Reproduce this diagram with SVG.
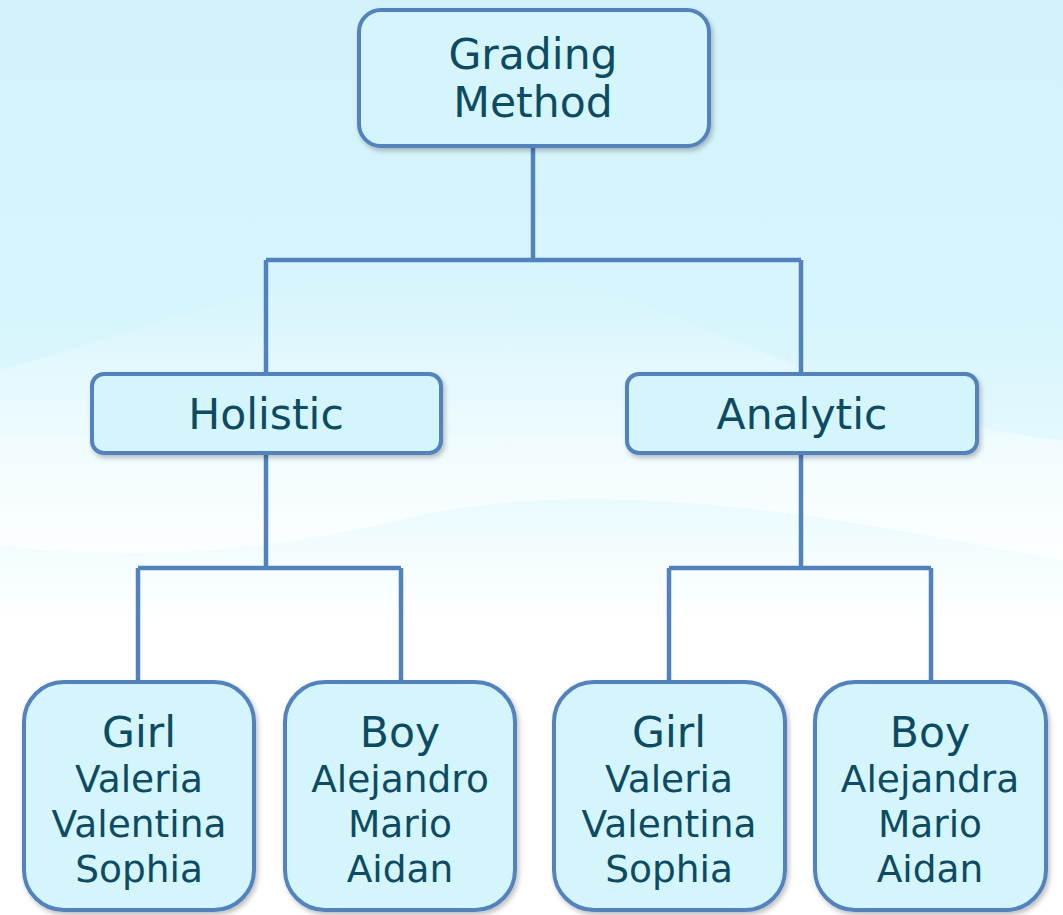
<svg xmlns="http://www.w3.org/2000/svg" width="1063" height="915" viewBox="0 0 1063 915">
<defs>
<linearGradient id="bg" x1="0" y1="0" x2="0" y2="1">
<stop offset="0" stop-color="#d3f3fb"/>
<stop offset="0.35" stop-color="#d6f5fc"/>
<stop offset="0.55" stop-color="#eafbfe"/>
<stop offset="0.68" stop-color="#ffffff"/>
<stop offset="1" stop-color="#ffffff"/>
</linearGradient>
<linearGradient id="wave" x1="0" y1="0" x2="0" y2="1">
<stop offset="0" stop-color="#ffffff" stop-opacity="0"/>
<stop offset="0.5" stop-color="#ffffff" stop-opacity="0.35"/>
<stop offset="1" stop-color="#ffffff" stop-opacity="0.8"/>
</linearGradient>
<filter id="sh" x="-10%" y="-10%" width="125%" height="130%">
<feDropShadow dx="2" dy="3" stdDeviation="2.5" flood-color="#000000" flood-opacity="0.25"/>
</filter>
<style>
.node rect{fill:#d5f5fd;stroke:#5282bd;stroke-width:4;filter:url(#sh)}
.node text{font-family:"DejaVu Sans",Verdana,sans-serif;fill:#0c4b62;text-anchor:middle}
.t1{font-size:42.5px}
.t2{font-size:37.5px}
#connectors path{fill:none;stroke:#5282bd;stroke-width:4.5}
</style>
</defs>
<rect x="0" y="0" width="1063" height="915" fill="url(#bg)"/>
<path d="M0,370 C150,330 330,250 520,275 C700,300 850,420 1063,440 L1063,560 C850,520 600,470 400,520 C250,555 120,560 0,545 Z" fill="url(#wave)"/>
<g id="connectors">
<path d="M533,146 V260 M266,260 H801 M266,260 V374 M801,260 V374"/>
<path d="M266,453 V568 M138,568 H401 M138,568 V682 M401,568 V682"/>
<path d="M801,453 V568 M669,568 H931 M669,568 V682 M931,568 V682"/>
</g>
<g id="root" class="node">
<rect x="359" y="10" width="350" height="136" rx="22"/>
<text class="t1" x="533" y="69">Grading</text>
<text class="t1" x="533" y="117">Method</text>
</g>
<g id="holistic" class="node">
<rect x="92" y="374" width="349" height="79" rx="12"/>
<text class="t1" x="266" y="429">Holistic</text>
</g>
<g id="analytic" class="node">
<rect x="627" y="374" width="350" height="79" rx="12"/>
<text class="t1" x="802" y="429">Analytic</text>
</g>
<g id="girl1" class="node">
<rect x="24" y="682" width="230" height="228" rx="40"/>
<text class="t1" x="139" y="747">Girl</text>
<text class="t2" x="139" y="792">Valeria</text>
<text class="t2" x="139" y="837">Valentina</text>
<text class="t2" x="139" y="882">Sophia</text>
</g>
<g id="boy1" class="node">
<rect x="285" y="682" width="230" height="228" rx="40"/>
<text class="t1" x="400" y="747">Boy</text>
<text class="t2" x="400" y="792">Alejandro</text>
<text class="t2" x="400" y="837">Mario</text>
<text class="t2" x="400" y="882">Aidan</text>
</g>
<g id="girl2" class="node">
<rect x="554" y="682" width="231" height="228" rx="40"/>
<text class="t1" x="669" y="747">Girl</text>
<text class="t2" x="669" y="792">Valeria</text>
<text class="t2" x="669" y="837">Valentina</text>
<text class="t2" x="669" y="882">Sophia</text>
</g>
<g id="boy2" class="node">
<rect x="815" y="682" width="231" height="228" rx="40"/>
<text class="t1" x="930" y="747">Boy</text>
<text class="t2" x="930" y="792">Alejandra</text>
<text class="t2" x="930" y="837">Mario</text>
<text class="t2" x="930" y="882">Aidan</text>
</g>
</svg>
